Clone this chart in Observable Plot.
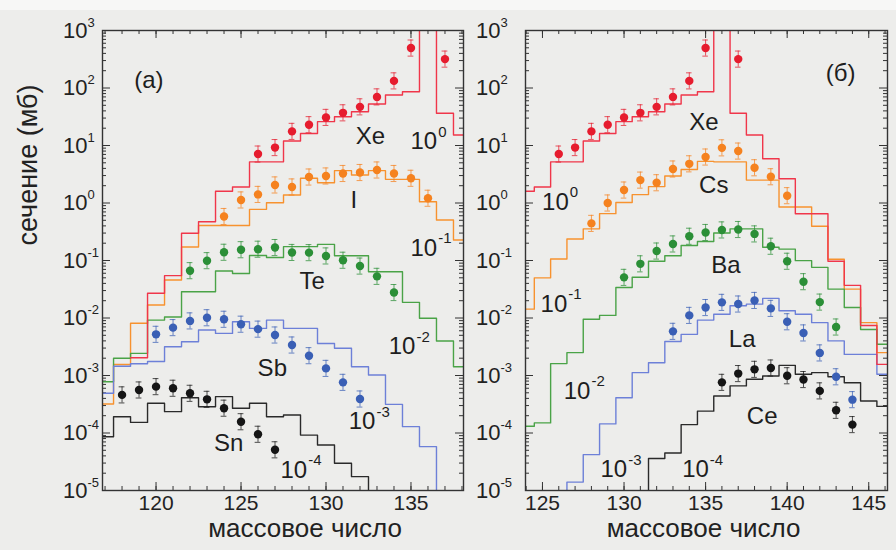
<!DOCTYPE html>
<html>
<head>
<meta charset="utf-8">
<script src="https://cdn.jsdelivr.net/npm/d3@7"></script>
<script src="https://cdn.jsdelivr.net/npm/@observablehq/plot@0.6"></script>
<style>
  html, body { margin: 0; padding: 0; background: #ededeb; }
  #wrap { position: relative; width: 896px; height: 550px; overflow: hidden; background: #ededeb; }
  #topband { position: absolute; left: 0; top: 0; width: 896px; height: 10px; background: #f7f7f6; }
  .panel { position: absolute; top: 0; }
</style>
</head>
<body>
<div id="wrap"><div id="topband"></div></div>
<script>
// ---------------- data ----------------
// model (histogram) values: first mass number, then one value per mass number
const xeModelStart = 119;
const xeModel = [2.04e-3, 0.0269, 0.0545, 0.297, 0.473, 1.6, 1.9, 5.2, 5.2, 12, 16.2, 26, 31.7, 38.7, 52.7, 75.5, 86, 1e4, 36.3, 15.2, 5.9, 2.64, 0.65, 0.65, 0.097, 0.037, 7.4e-3, 1.56e-3];

// panel (a)
const iModelStart = 117;
const iModel = [3.2e-4, 1.55e-3, 8.1e-3, 0.0168, 0.0458, 0.172, 0.406, 0.406, 0.406, 0.776, 1.01, 1.38, 2.69, 2.25, 3.65, 3.07, 3.65, 2.58, 2.58, 1.05, 0.506, 0.227];
const teModelStart = 117;
const teModel = [7.8e-4, 1.99e-3, 2.43e-3, 9.2e-3, 0.0104, 0.0286, 0.0286, 0.0656, 0.0594, 0.122, 0.113, 0.174, 0.174, 0.191, 0.121, 0.121, 0.0638, 0.0638, 0.0187, 9.9e-3, 3.98e-3, 1.42e-3];
const sbModelStart = 117;
const sbModel = [4.9e-4, 1.45e-3, 1.6e-3, 1.75e-3, 3.17e-3, 3.87e-3, 6.2e-3, 5.4e-3, 8.6e-3, 6.6e-3, 9.2e-3, 6.6e-3, 6.6e-3, 3.6e-3, 2.97e-3, 1.42e-3, 1.02e-3, 3.15e-4, 1.29e-4, 5.8e-5, 1e-6];
const snModelStart = 117;
const snModel = [8.6e-5, 1.92e-4, 1.53e-4, 3.3e-4, 2.35e-4, 4.1e-4, 2.86e-4, 4.3e-4, 2.69e-4, 3.3e-4, 1.92e-4, 2.06e-4, 9.2e-5, 6.2e-5, 2.97e-5, 1.74e-5, 1e-6];

// panel (б)
const csModelStart = 124;
const csModel = [0.01426, 0.0499, 0.106, 0.237, 0.355, 0.653, 1.02, 1.4, 1.93, 2.94, 3.83, 5.3, 5.2, 5.2, 2.5, 2.5, 0.85, 0.85, 0.395, 0.105, 0.0318, 8.3e-3, 2.5e-3];
const baModelStart = 124;
const baModel = [1.31e-4, 1.5e-4, 1.61e-3, 2.5e-3, 9.5e-3, 0.0111, 0.034, 0.051, 0.097, 0.121, 0.182, 0.214, 0.3, 0.355, 0.355, 0.17, 0.158, 0.0995, 0.076, 0.0318, 0.0152, 6.3e-3, 3.5e-3];
const laModelStart = 126;
const laModel = [1e-6, 1.4e-5, 4.2e-5, 1.44e-4, 4.1e-4, 1.12e-3, 1.67e-3, 3.9e-3, 5.2e-3, 9.2e-3, 0.0116, 0.0163, 0.0174, 0.0219, 0.0134, 0.0116, 8.3e-3, 4.0e-3, 2.33e-3, 2.33e-3, 1.05e-3];
const ceModelStart = 131;
const ceModel = [1e-6, 3.6e-5, 4.5e-5, 1.4e-4, 2.4e-4, 4.4e-4, 6.6e-4, 8.6e-4, 9.8e-4, 1.5e-3, 1.05e-3, 1.12e-3, 9.5e-4, 7.5e-4, 3.6e-4, 2.9e-4];

// measured points
const xeMass = [126, 127, 128, 129, 130, 131, 132, 133, 134, 135, 137];
const xeData = [7.1, 9.2, 17.6, 23, 30.8, 37, 47, 70, 133, 495, 318];
const iMass = [124, 125, 126, 127, 128, 129, 130, 131, 132, 133, 134, 135, 136];
const iData = [0.582, 1.13, 1.41, 2.06, 1.9, 2.83, 2.95, 3.26, 3.39, 3.75, 3.26, 2.69, 1.21];
const teMass = [122, 123, 124, 125, 126, 127, 128, 129, 130, 131, 132, 133, 134];
const teData = [0.0665, 0.0993, 0.139, 0.154, 0.157, 0.168, 0.138, 0.137, 0.12, 0.101, 0.080, 0.053, 0.0277];
const sbMass = [120, 121, 122, 123, 124, 125, 126, 127, 128, 129, 130, 131, 132];
const sbData = [5.2e-3, 6.8e-3, 8.9e-3, 0.0101, 9.5e-3, 7.8e-3, 6.4e-3, 5.06e-3, 3.39e-3, 2.21e-3, 1.33e-3, 7.6e-4, 3.9e-4];
const snMass = [118, 119, 120, 121, 122, 123, 124, 125, 126, 127];
const snData = [4.6e-4, 5.6e-4, 6.4e-4, 6.0e-4, 4.9e-4, 3.85e-4, 2.7e-4, 1.57e-4, 9.5e-5, 5.1e-5];
const csMass = [128, 129, 130, 131, 132, 133, 134, 135, 136, 137, 138, 139, 140];
const csData = [0.442, 1.0, 1.68, 2.5, 2.25, 3.9, 4.8, 6.3, 9.1, 8.0, 4.1, 2.86, 1.34];
const baMass = [130, 131, 132, 133, 134, 135, 136, 137, 138, 139, 140, 141, 142, 143];
const baData = [0.0509, 0.0875, 0.146, 0.194, 0.264, 0.307, 0.34, 0.346, 0.29, 0.177, 0.097, 0.0428, 0.0189, 6.97e-3];
const laMass = [133, 134, 135, 136, 137, 138, 139, 140, 141, 142, 143, 144];
const laData = [5.86e-3, 0.0111, 0.0152, 0.0187, 0.0175, 0.0202, 0.0147, 8.6e-3, 5.5e-3, 2.47e-3, 9.5e-4, 3.8e-4];
const ceMass = [136, 137, 138, 139, 140, 141, 142, 143, 144];
const ceData = [7.6e-4, 1.08e-3, 1.28e-3, 1.35e-3, 9.9e-4, 8.5e-4, 5.4e-4, 2.48e-4, 1.4e-4];
const errDecades = 0.14; // error bar half-length, in decades

// axes
const decades = [-5, -4, -3, -2, -1, 0, 1, 2, 3];
const xTicksA = [120, 125, 130, 135];
const xTicksB = [125, 130, 135, 140, 145];
const xTitle = "массовое число";
const yTitle = "сечение (мб)";

// annotations
const labelsA = [
  {m: 119.58, v: 138, t: "(а)"}, {m: 132.62, v: 14.2, t: "Xe"}, {m: 131.64, v: 1.13, t: "I"},
  {m: 129.19, v: 0.0428, t: "Te"}, {m: 126.84, v: 1.33e-3, t: "Sb"}, {m: 124.28, v: 6.6e-5, t: "Sn"}
];
const factorsA = [
  {m: 136.54, v: 11.6, e: "0"}, {m: 136.54, v: 0.163, e: "-1"}, {m: 135.26, v: 3.17e-3, e: "-2"},
  {m: 132.91, v: 1.57e-4, e: "-3"}, {m: 128.89, v: 2.27e-5, e: "-4"}
];
const labelsB = [
  {m: 143.27, v: 180, t: "(б)"}, {m: 134.89, v: 25.8, t: "Xe"}, {m: 135.5, v: 2.03, t: "Cs"},
  {m: 136.24, v: 0.0815, t: "Ba"}, {m: 137.24, v: 4.27e-3, t: "La"}, {m: 138.47, v: 1.96e-4, t: "Ce"}
];
const factorsB = [
  {m: 126.61, v: 1.04, e: "0"}, {m: 126.52, v: 0.0174, e: "-1"}, {m: 127.94, v: 5.36e-4, e: "-2"},
  {m: 130.19, v: 2.3e-5, e: "-3"}, {m: 135.2, v: 2.3e-5, e: "-4"}
];

// ---------------- drawing ----------------
const FONT = "'Liberation Sans', Arial, Helvetica, sans-serif";
const C = {
  red:    {line: "#f0364a", dot: "#e61c2e"},
  orange: {line: "#f7922f", dot: "#f5821f"},
  green:  {line: "#4aa347", dot: "#2b8f37"},
  blue:   {line: "#6d80d8", dot: "#3a5fb5"},
  black:  {line: "#2a2a2a", dot: "#151515"}
};

function steps(start, vals) {
  const out = vals.map((v, i) => ({x: start + i - 0.5, y: v}));
  out.push({x: start + vals.length - 0.5, y: vals[vals.length - 1]});
  return out;
}
function points(mass, vals) { return mass.map((m, i) => ({m, v: vals[i]})); }

function makePanel(o) {
  const H = 550, mt = 30, mb = 60;
  const ph = H - mt - mb, pw = o.width - o.marginLeft - o.marginRight;
  const [x0, x1] = o.xDomain;
  const minorX = d3.range(Math.ceil(x0), Math.floor(x1) + 1);
  const majorX = minorX.filter(d => d % 5 === 0);
  const majorY = decades.map(e => 10 ** e);
  const minorY = [];
  decades.slice(0, -1).forEach(e => { for (let k = 2; k < 10; k++) minorY.push(k * 10 ** e); });
  const ef = 10 ** errDecades;
  const tc = {stroke: "#333", strokeWidth: 1};
  const marks = [
    Plot.tickX(minorX, {x: d => d, insetTop: ph - 4, ...tc}),
    Plot.tickX(minorX, {x: d => d, insetBottom: ph - 4, ...tc}),
    Plot.tickX(majorX, {x: d => d, insetTop: ph - 8, ...tc}),
    Plot.tickX(majorX, {x: d => d, insetBottom: ph - 8, ...tc}),
    Plot.tickY(minorY, {y: d => d, insetRight: pw - 4, ...tc}),
    Plot.tickY(minorY, {y: d => d, insetLeft: pw - 4, ...tc}),
    Plot.tickY(majorY, {y: d => d, insetRight: pw - 8, ...tc}),
    Plot.tickY(majorY, {y: d => d, insetLeft: pw - 8, ...tc})
  ];
  for (const s of o.models) {
    marks.push(Plot.line(steps(s.start, s.vals), {x: "x", y: "y", curve: "step-after", stroke: s.color, strokeWidth: 1.4, clip: true}));
  }
  for (const s of o.data) {
    const p = points(s.mass, s.vals);
    const ec = {stroke: s.color, strokeWidth: 1, strokeOpacity: 0.75};
    marks.push(
      Plot.ruleX(p, {x: "m", y1: d => d.v / ef, y2: d => d.v * ef, ...ec}),
      Plot.ruleY(p, {y: d => d.v * ef, x1: d => d.m - 0.17, x2: d => d.m + 0.17, ...ec}),
      Plot.ruleY(p, {y: d => d.v / ef, x1: d => d.m - 0.17, x2: d => d.m + 0.17, ...ec}),
      Plot.dot(p, {x: "m", y: "v", r: 4.2, fill: s.color, stroke: "none"})
    );
  }
  marks.push(Plot.frame({stroke: "#333", strokeWidth: 1.4}));
  // tick labels
  marks.push(
    Plot.text(o.xTicks, {x: d => d, frameAnchor: "bottom", dy: 19, text: d => String(d), fontSize: 21, fill: "#222"}),
    Plot.text(decades, {y: d => 10 ** d, frameAnchor: "left", dx: o.yLabelDx, textAnchor: "end", text: () => "10", fontSize: 22, fill: "#222"}),
    Plot.text(decades, {y: d => 10 ** d, frameAnchor: "left", dx: o.yLabelDx, dy: -8, textAnchor: "start", text: d => String(d), fontSize: 13, fill: "#222"}),
    Plot.text([xTitle], {frameAnchor: "bottom", dx: o.titleDx, dy: 46, text: d => d, fontSize: 26, fill: "#222"})
  );
  if (o.yTitle) {
    marks.push(Plot.text([o.yTitle], {frameAnchor: "left", dx: -74, dy: -15, rotate: -90, text: d => d, fontSize: 27, fill: "#222"}));
  }
  // annotations
  marks.push(
    Plot.text(o.labels, {x: "m", y: "v", text: "t", fontSize: 24, fill: "#1e1e1e"}),
    Plot.text(o.factors, {x: "m", y: "v", text: () => "10", textAnchor: "end", fontSize: 24, fill: "#1e1e1e"}),
    Plot.text(o.factors, {x: "m", y: "v", text: "e", textAnchor: "start", dy: -10, dx: 1, fontSize: 15, fill: "#1e1e1e"})
  );
  return Plot.plot({
    width: o.width, height: H,
    marginTop: mt, marginBottom: mb, marginLeft: o.marginLeft, marginRight: o.marginRight,
    x: {domain: o.xDomain, axis: null},
    y: {type: "log", domain: [1e-5, 1e3], axis: null},
    style: {background: "transparent", fontFamily: FONT, overflow: "visible"},
    marks
  });
}

const left = makePanel({
  width: 468, marginLeft: 102, marginRight: 5,
  xDomain: [116.85, 138.09], xTicks: xTicksA, yLabelDx: -15, titleDx: 22, yTitle: yTitle,
  models: [
    {start: iModelStart, vals: iModel, color: C.orange.line},
    {start: teModelStart, vals: teModel, color: C.green.line},
    {start: sbModelStart, vals: sbModel, color: C.blue.line},
    {start: snModelStart, vals: snModel, color: C.black.line},
    {start: xeModelStart, vals: xeModel, color: C.red.line}
  ],
  data: [
    {mass: xeMass, vals: xeData, color: C.red.dot},
    {mass: iMass, vals: iData, color: C.orange.dot},
    {mass: teMass, vals: teData, color: C.green.dot},
    {mass: sbMass, vals: sbData, color: C.blue.dot},
    {mass: snMass, vals: snData, color: C.black.dot}
  ],
  labels: labelsA, factors: factorsA
});
const right = makePanel({
  width: 428, marginLeft: 57, marginRight: 9,
  xDomain: [123.96, 146.15], xTicks: xTicksB, yLabelDx: -25, titleDx: -3, yTitle: null,
  models: [
    {start: csModelStart, vals: csModel, color: C.orange.line},
    {start: baModelStart, vals: baModel, color: C.green.line},
    {start: laModelStart, vals: laModel, color: C.blue.line},
    {start: ceModelStart, vals: ceModel, color: C.black.line},
    {start: xeModelStart, vals: xeModel, color: C.red.line}
  ],
  data: [
    {mass: xeMass, vals: xeData, color: C.red.dot},
    {mass: csMass, vals: csData, color: C.orange.dot},
    {mass: baMass, vals: baData, color: C.green.dot},
    {mass: laMass, vals: laData, color: C.blue.dot},
    {mass: ceMass, vals: ceData, color: C.black.dot}
  ],
  labels: labelsB, factors: factorsB
});
left.classList.add("panel"); left.style.left = "0px";
right.classList.add("panel"); right.style.left = "468px";
const wrap = document.getElementById("wrap");
wrap.appendChild(left);
wrap.appendChild(right);
</script>
</body>
</html>
